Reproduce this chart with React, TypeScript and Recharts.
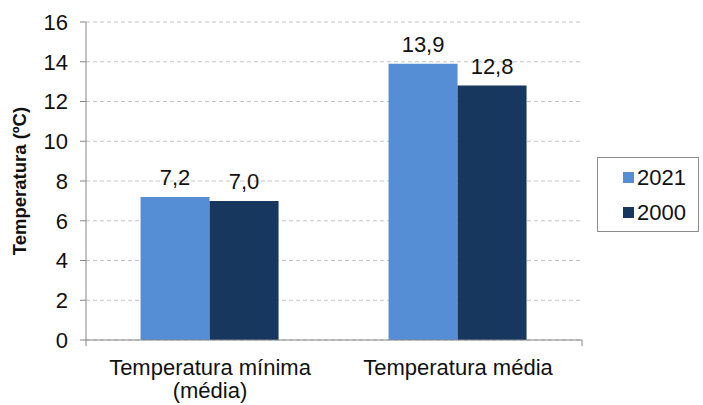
import { BarChart, Bar, XAxis, YAxis, CartesianGrid, LabelList } from "recharts";

const categories = ["Temperatura mínima\n(média)", "Temperatura média"];
const values2021 = [7.2, 13.9];
const values2000 = [7.0, 12.8];
const yTicks = [0, 2, 4, 6, 8, 10, 12, 14, 16];
const seriesNames = ["2021", "2000"];

const COLORS = ["#558ED5", "#17375E"];
const FONT = "'Liberation Sans', Arial, sans-serif";

const data = categories.map((name, i) => ({
  name,
  y2021: values2021[i],
  y2000: values2000[i],
}));

const fmt = (v: any) => Number(v).toFixed(1).replace(".", ",");

function CategoryTick(props: any) {
  const { x, y, payload } = props;
  const lines = String(payload.value).split("\n");
  return (
    <text x={x} y={y + 26} textAnchor="middle" fontSize={22} fontFamily={FONT} fill="#111">
      {lines.map((l, i) => (
        <tspan key={i} x={x} dy={i === 0 ? 0 : 23}>
          {l}
        </tspan>
      ))}
    </text>
  );
}

function LegendBox() {
  return (
    <div
      style={{
        position: "absolute",
        left: 597,
        top: 157,
        border: "1px solid #8c8c8c",
        width: 102,
        height: 75,
        boxSizing: "border-box",
        fontFamily: FONT,
        fontSize: 22,
        color: "#111",
        paddingTop: 2,
        background: "#fff",
      }}
    >
      {seriesNames.map((s, i) => (
        <div key={s} style={{ display: "flex", alignItems: "center", height: 35 }}>
          <span style={{ width: 11, height: 11, background: COLORS[i], marginLeft: 25, marginRight: 3 }} />
          <span>{s}</span>
        </div>
      ))}
    </div>
  );
}

export default function App() {
  return (
    <div style={{ position: "absolute", left: 0, top: 0, width: 703, height: 405, background: "#fff" }}>
      <BarChart
        width={703}
        height={405}
        data={data}
        margin={{ top: 22, right: 121, bottom: 0, left: 0 }}
        barCategoryGap="22%"
        barGap={0}
      >
        <CartesianGrid xAxisId="b_cat" vertical={false} stroke="#c4c4c4" strokeDasharray="4 3" />
        <XAxis
          xAxisId="a_edges"
          type="number"
          domain={[0, 2]}
          ticks={[0, 1, 2]}
          allowDataOverflow
          height={1}
          tick={() => <g />}
          axisLine={{ stroke: "#868686" }}
          tickLine={{ stroke: "#868686" }}
          tickSize={6}
        />
        <XAxis
          xAxisId="b_cat"
          dataKey="name"
          height={64}
          axisLine={false}
          tickLine={false}
          tick={<CategoryTick />}
          interval={0}
        />
        <YAxis
          domain={[0, 16]}
          ticks={yTicks}
          width={86}
          axisLine={{ stroke: "#868686" }}
          tickLine={{ stroke: "#868686" }}
          tickSize={6}
          tickMargin={12}
          tick={{ fontSize: 22, fontFamily: FONT, fill: "#111" }}
          label={{
            value: "Temperatura (ºC)",
            angle: -90,
            position: "center",
            dx: -24,
            style: { fontSize: 18.5, fontWeight: "bold", fontFamily: FONT, fill: "#111", textAnchor: "middle" },
          }}
        />
        <Bar xAxisId="b_cat" dataKey="y2021" name={seriesNames[0]} fill={COLORS[0]} isAnimationActive={false}>
          <LabelList dataKey="y2021" position="top" offset={12} formatter={fmt} fontSize={22} fontFamily={FONT} fill="#111" />
        </Bar>
        <Bar xAxisId="b_cat" dataKey="y2000" name={seriesNames[1]} fill={COLORS[1]} isAnimationActive={false}>
          <LabelList dataKey="y2000" position="top" offset={12} formatter={fmt} fontSize={22} fontFamily={FONT} fill="#111" />
        </Bar>
      </BarChart>
      <LegendBox />
    </div>
  );
}
